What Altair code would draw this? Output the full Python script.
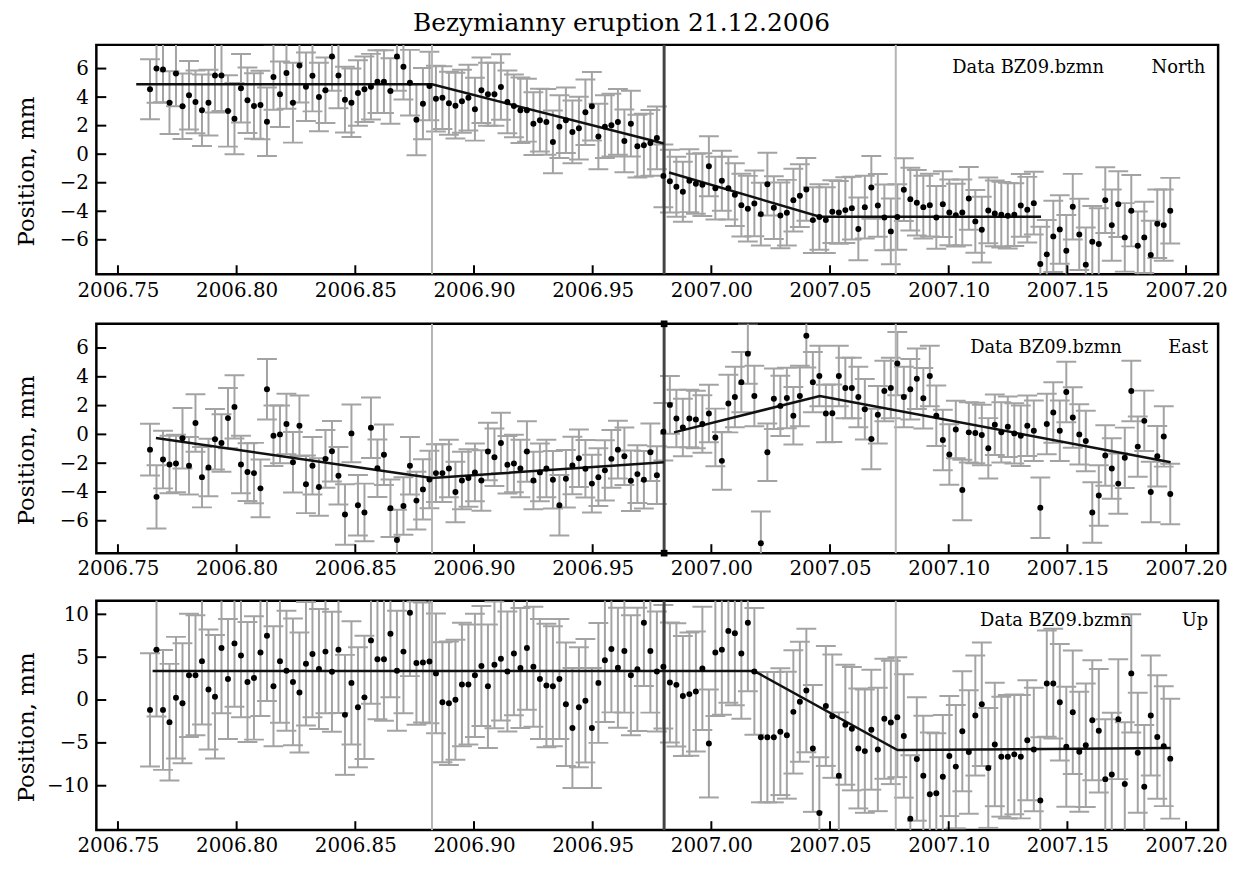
import altair as alt
import pandas as pd

TITLE = "Bezymianny eruption 21.12.2006"
FONT = "DejaVu Serif"

# daily GPS solutions, first epoch (decimal year), one per day
FIRST_EPOCH = 2006.7635
N_DAYS = 158

# event markers (decimal year)
GRAY_LINES = [2006.8823, 2007.0777]
ERUPTION = [2006.9801]

X_TICKS = [2006.75, 2006.80, 2006.85, 2006.90, 2006.95, 2007.00, 2007.05, 2007.10, 2007.15, 2007.20]
X_DOMAIN = [2006.7409, 2007.2135]

# ---------------- North ----------------
north = [4.55, 6.01, 5.94, 3.61, 5.66, 3.36, 4.13, 3.66, 3.08, 3.61,
         5.52, 5.52, 3.03, 2.49, 4.62, 3.78, 3.38, 3.45, 2.28, 5.41,
         4.20, 5.69, 3.61, 6.22, 4.73, 5.50, 4.01, 4.48, 6.85, 5.52,
         3.82, 3.61, 4.29, 4.55, 4.73, 5.08, 5.08, 4.43, 6.85, 6.13,
         5.01, 2.42, 3.54, 4.78, 3.89, 3.96, 3.57, 3.40, 3.71, 3.96,
         3.15, 4.48, 4.20, 4.20, 4.71, 3.66, 3.38, 3.08, 3.08, 2.14,
         2.38, 2.26, 0.86, 1.93, 2.38, 1.56, 1.82, 2.94, 3.36, 1.24,
         1.93, 2.03, 2.26, 0.93, 2.14, 0.56, 0.63, 0.79, 1.14, -1.52,
         -1.89, -2.28, -2.63, -1.86, -2.07, -2.14, -0.84, -2.38, -1.86, -2.38,
         -2.84, -3.57, -3.82, -3.45, -4.20, -2.10, -3.75, -4.29, -4.10, -3.22,
         -2.91, -2.47, -4.62, -4.40, -4.62, -4.03, -4.08, -3.92, -3.78, -5.24,
         -3.71, -2.33, -3.59, -4.43, -5.41, -4.40, -2.49, -3.15, -3.40, -3.71,
         -3.57, -4.43, -3.50, -4.08, -4.27, -4.08, -3.10, -4.71, -5.29, -3.94,
         -4.15, -4.24, -4.31, -4.24, -3.59, -3.89, -3.43, -7.69, -7.02, -5.76,
         -5.27, -6.76, -3.68, -5.62, -7.74, -6.13, -6.29, -3.22, -4.97, -3.50,
         -5.83, -3.96, -6.41, -5.83, -7.06, -4.87, -4.97, -3.96]
north_err = [2.1, 2.4, 2.3, 2.2, 2.3, 2.3, 2.4, 2.2, 2.5, 2.3,
             2.6, 2.5, 2.5, 2.5, 2.4, 2.3, 2.3, 2.4, 2.4, 2.3,
             2.3, 2.5, 2.8, 2.6, 2.4, 2.5, 2.4, 2.3, 2.4, 2.3,
             2.3, 2.4, 2.3, 2.3, 2.3, 2.2, 2.2, 2.3, 2.4, 2.3,
             2.3, 2.5, 2.5, 2.4, 2.3, 2.2, 2.2, 2.3, 2.2, 2.3,
             2.2, 2.3, 2.2, 2.2, 2.3, 2.2, 2.2, 2.3, 2.2, 2.2,
             2.2, 2.3, 2.2, 2.2, 2.3, 2.2, 2.2, 2.3, 2.4, 2.3,
             2.2, 2.2, 2.3, 2.2, 2.3, 2.2, 2.2, 2.3, 2.2, 2.2,
             2.2, 2.1, 2.1, 2.2, 2.1, 2.2, 2.1, 2.2, 2.1, 2.2,
             2.2, 2.2, 2.3, 2.3, 2.2, 2.2, 2.2, 2.3, 2.3, 2.2,
             2.2, 2.2, 2.3, 2.3, 2.3, 2.2, 2.2, 2.3, 2.2, 2.2,
             2.2, 2.2, 2.2, 2.3, 2.3, 2.3, 2.2, 2.2, 2.3, 2.2,
             2.2, 2.2, 2.3, 2.3, 2.2, 2.3, 2.2, 2.2, 2.3, 2.3,
             2.3, 2.3, 2.3, 2.2, 2.2, 2.3, 2.2, 2.6, 2.4, 2.5,
             2.4, 2.5, 2.3, 2.5, 2.6, 2.5, 2.5, 2.3, 2.5, 2.3,
             2.4, 2.5, 2.4, 2.5, 2.4, 2.4, 2.5, 2.3]
north_fit_t = [2006.7577, 2006.8823, 2006.9800, 2006.9822, 2007.0457, 2007.1389]
north_fit_v = [4.90, 4.90, 0.75, -1.28, -4.38, -4.38]
north_fit_seg = [0, 0, 0, 1, 1, 1]

# ---------------- East ----------------
east = [-1.06, -4.34, -1.75, -2.09, -2.02, -0.27, -2.18, 0.79, -2.97, -2.30,
        -0.34, -0.60, 1.13, 1.91, -2.09, -2.62, -2.69, -3.75, 3.13, -0.09,
        0.00, 0.72, -1.93, 0.60, -3.47, -2.18, -3.66, -1.70, -1.17, -2.87,
        -5.56, 0.07, -4.92, -5.42, 0.46, -2.35, -1.42, -5.13, -7.33, -4.97,
        -2.18, -4.60, -3.82, -3.13, -2.69, -2.69, -2.37, -4.00, -3.20, -3.03,
        -2.64, -3.20, -1.19, -1.59, -0.60, -2.11, -2.02, -2.37, -1.19, -3.20,
        -2.64, -2.37, -3.15, -4.92, -3.08, -2.16, -1.66, -2.39, -3.42, -2.97,
        -2.50, -1.70, -1.06, -1.52, -3.22, -2.76, -3.15, -1.24, -2.83, 0.18,
        2.05, 1.10, 0.48, 1.10, 1.03, 0.72, 1.45, -0.21, -1.84, 2.14,
        2.60, 3.63, 5.61, 2.67, -7.56, -1.24, 2.48, 1.98, 2.53, 1.29,
        2.67, 6.85, 3.63, 4.05, 1.45, 1.47, 4.05, 3.22, 3.22, 2.60,
        1.75, -0.32, 1.36, 3.01, 3.22, 4.92, 2.60, 3.13, 3.86, 2.51,
        4.05, 1.29, -0.39, -1.40, 0.34, -3.86, 0.14, 0.09, -0.04, -0.97,
        0.67, 0.14, 0.53, 0.07, -0.09, 0.60, 0.25, -5.10, 0.72, 1.52,
        0.25, 2.94, 1.17, 0.00, -0.46, -5.42, -4.25, -1.47, -2.37, -3.42,
        -1.63, 3.01, -0.85, 0.94, -4.00, -1.52, -0.14, -4.14]
east_err = [1.8, 2.2, 2.0, 2.0, 2.0, 2.1, 2.0, 2.0, 2.1, 2.0,
            2.1, 2.0, 2.1, 2.2, 2.0, 2.0, 2.1, 2.0, 2.1, 2.1,
            2.0, 2.1, 2.1, 2.1, 2.0, 2.0, 2.0, 2.0, 2.1, 2.0,
            2.1, 2.0, 2.1, 2.0, 2.1, 2.0, 2.1, 2.0, 2.1, 2.0,
            2.0, 2.0, 2.1, 2.0, 2.0, 2.0, 2.0, 2.1, 2.0, 2.0,
            2.0, 2.1, 2.0, 2.0, 2.1, 2.0, 2.0, 2.0, 2.1, 2.0,
            2.0, 2.0, 2.0, 2.1, 2.0, 2.0, 2.0, 2.0, 2.0, 2.0,
            2.1, 2.0, 2.0, 2.0, 2.1, 2.0, 2.0, 2.0, 2.0, 2.0,
            2.0, 2.0, 2.0, 2.0, 2.0, 2.0, 2.0, 2.0, 2.0, 2.0,
            2.1, 2.1, 2.1, 2.1, 2.2, 2.0, 2.1, 2.1, 2.1, 2.0,
            2.1, 2.2, 2.1, 2.1, 2.0, 2.0, 2.1, 2.1, 2.1, 2.1,
            2.1, 2.1, 2.0, 2.1, 2.1, 2.2, 2.1, 2.1, 2.1, 2.1,
            2.1, 2.1, 2.1, 2.1, 2.0, 2.1, 2.1, 2.1, 2.1, 2.1,
            2.1, 2.1, 2.1, 2.1, 2.1, 2.1, 2.1, 2.1, 2.1, 2.1,
            2.1, 2.1, 2.1, 2.1, 2.1, 2.1, 2.1, 2.1, 2.1, 2.1,
            2.1, 2.1, 2.1, 2.1, 2.1, 2.1, 2.1, 2.1]
east_fit_t = [2006.7660, 2006.8823, 2006.9800, 2006.9843, 2007.0457, 2007.1935]
east_fit_v = [-0.25, -3.03, -1.93, 0.14, 2.67, -1.93]
east_fit_seg = [0, 0, 0, 1, 1, 1]

# ---------------- Up ----------------
up = [-1.15, 5.88, -1.15, -2.58, 0.27, -0.38, 2.88, 2.88, 4.54, 1.23,
      0.38, 6.07, 2.46, 6.61, 5.19, 2.11, 2.58, 5.54, 7.50, 1.61,
      4.54, 3.42, 2.11, 0.88, 4.23, 5.38, 3.61, 5.65, 3.31, 5.88,
      -1.73, 2.00, -0.85, 0.31, 6.96, 4.77, 4.77, 7.73, 3.42, 5.65,
      10.19, 4.31, 4.38, 4.50, 3.11, -0.27, -0.38, 0.04, 1.81, 1.81,
      2.88, 3.96, 1.61, 4.11, 4.81, 3.34, 5.42, 3.73, 6.07, 3.88,
      2.46, 1.69, 1.61, 2.46, -0.50, -3.27, -0.85, -0.08, -3.27, 2.00,
      4.65, 5.96, 3.77, 5.73, 2.88, 3.58, 9.03, 5.73, 3.34, 3.88,
      2.04, 1.77, 0.46, 0.69, 1.00, 3.69, -5.07, 5.54, 5.88, 8.07,
      7.80, 5.42, 9.03, 3.34, -4.34, -4.34, -4.34, -3.69, -4.11, -1.38,
      -0.19, 1.11, -5.65, -13.19, -0.69, -1.88, -8.84, -2.88, -3.34, -5.65,
      -5.96, -3.46, -5.77, -2.19, -2.61, -2.00, -4.19, -13.84, -6.88, -8.84,
      -10.99, -10.88, -8.96, -6.54, -7.77, -3.65, -6.07, -1.81, -0.50, -7.92,
      -5.19, -6.61, -6.61, -6.34, -6.61, -4.69, -5.77, -11.73, 1.92, 1.92,
      -0.27, -5.46, -1.42, -6.04, -5.27, -2.35, -3.58, -9.23, -8.69, -2.23,
      -9.80, 3.11, -6.15, -10.11, -1.81, -4.31, -5.38, -6.84]
up_err = [6.6, 7.8, 7.0, 6.8, 7.1, 7.0, 7.2, 7.0, 7.4, 7.0,
          7.2, 7.6, 7.0, 7.4, 7.2, 7.0, 7.2, 7.4, 7.6, 7.0,
          7.2, 7.0, 7.4, 7.0, 7.2, 7.4, 7.0, 7.2, 7.0, 7.4,
          7.0, 7.2, 7.0, 7.2, 7.4, 7.0, 7.2, 7.4, 7.0, 7.2,
          7.4, 7.2, 7.0, 7.2, 7.0, 7.0, 7.2, 7.0, 7.2, 7.0,
          7.2, 7.0, 7.2, 7.4, 7.2, 7.0, 7.2, 7.0, 7.2, 7.0,
          7.0, 7.2, 7.0, 7.0, 7.2, 7.0, 7.0, 7.2, 7.0, 7.0,
          7.2, 7.4, 7.0, 7.2, 7.0, 7.2, 7.4, 7.2, 7.0, 7.2,
          7.0, 7.2, 7.0, 7.2, 7.0, 7.2, 6.3, 7.4, 7.6, 8.4,
          8.4, 7.6, 8.0, 7.4, 7.6, 7.6, 7.6, 7.4, 7.4, 7.2,
          7.0, 7.2, 7.4, 6.5, 7.0, 7.2, 7.4, 7.0, 7.2, 7.0,
          7.2, 7.0, 7.2, 7.0, 7.2, 7.0, 7.2, 7.4, 7.2, 7.0,
          7.2, 7.0, 7.2, 7.0, 7.2, 7.0, 7.2, 7.0, 7.2, 7.0,
          7.2, 7.0, 7.2, 7.0, 7.2, 7.0, 7.2, 7.4, 6.2, 6.4,
          6.8, 7.0, 7.2, 7.0, 7.2, 7.0, 7.2, 7.0, 7.2, 7.0,
          7.2, 6.9, 7.0, 7.2, 7.0, 7.2, 7.0, 7.0]
up_fit_t = [2006.7646, 2007.0181, 2007.0784, 2007.1935]
up_fit_v = [3.38, 3.38, -5.84, -5.60]
up_fit_seg = [0, 0, 0, 0]

W, H = 1130, 231
BAR = "#a3a3a3"
GRAY = "#b4b4b4"
DARK = "#444444"

epochs = [round(FIRST_EPOCH + k / 365.25, 5) for k in range(N_DAYS)]


def make_panel(vals, errs, fit_t, fit_v, fit_seg, ydom, yticks, comp,
               data_right, comp_right, text_y, squares=False):
    df = pd.DataFrame({"t": epochs, "v": vals, "e": errs})
    df["lo"] = df["v"] - df["e"]
    df["hi"] = df["v"] + df["e"]
    caps = pd.concat([
        pd.DataFrame({"t": df["t"], "c": df["lo"]}),
        pd.DataFrame({"t": df["t"], "c": df["hi"]}),
    ])
    fit = pd.DataFrame({"t": fit_t, "v": fit_v, "seg": fit_seg})

    xs = alt.Scale(domain=X_DOMAIN, nice=False, zero=False)
    ys = alt.Scale(domain=ydom, nice=False, zero=False)

    xax = alt.Axis(values=X_TICKS, format=".2f", ticks=False, domain=False, grid=False,
                   labelFontSize=20, labelPadding=6, labelFlush=False, labelOverlap=False,
                   labelColor="black", labelFont=FONT, title=None)
    yax = alt.Axis(values=yticks, format="d", ticks=False, domain=False, grid=False,
                   labelFontSize=20, labelPadding=8, labelOverlap=False, labelFlush=False,
                   labelColor="black", labelFont=FONT,
                   title="Position, mm", titleFont=FONT, titleFontSize=23,
                   titleFontWeight="normal", titleColor="black",
                   titleX=-63, titleY=127, titleBaseline="alphabetic")

    def X(field):
        return alt.X(field, scale=xs, axis=xax)

    def Y(field):
        return alt.Y(field, scale=ys, axis=yax)

    bars = alt.Chart(df).mark_rule(color=BAR, strokeWidth=2, clip=True).encode(
        x=X("t:Q"), y=Y("lo:Q"), y2="hi:Q")
    capm = alt.Chart(caps).mark_tick(orient="horizontal", size=20, thickness=2,
                                     color=BAR, opacity=1, clip=True).encode(
        x=X("t:Q"), y=Y("c:Q"))
    gray = alt.Chart(pd.DataFrame({"t": GRAY_LINES})).mark_rule(
        color=GRAY, strokeWidth=2).encode(x=X("t:Q"))
    dark = alt.Chart(pd.DataFrame({"t": ERUPTION})).mark_rule(
        color=DARK, strokeWidth=3).encode(x=X("t:Q"))
    fitl = alt.Chart(fit).mark_line(color="#111111", strokeWidth=2.5).encode(
        x=X("t:Q"), y=Y("v:Q"), detail="seg:N")
    pts = alt.Chart(df).mark_circle(size=36, color="black", opacity=1, clip=True).encode(
        x=X("t:Q"), y=Y("v:Q"))
    lab = pd.DataFrame({"s": ["Data BZ09.bzmn"]})
    txt1 = alt.Chart(lab).mark_text(align="right", baseline="middle", font=FONT,
                                    fontSize=18, color="black").encode(
        x=alt.value(data_right), y=alt.value(text_y), text="s:N")
    txt2 = alt.Chart(pd.DataFrame({"s": [comp]})).mark_text(
        align="right", baseline="middle", font=FONT, fontSize=18, color="black").encode(
        x=alt.value(comp_right), y=alt.value(text_y), text="s:N")
    xt = alt.Chart(pd.DataFrame({"t": X_TICKS})).mark_rule(color="black", strokeWidth=2).encode(
        x=X("t:Q"), y=alt.value(H), y2=alt.value(H - 9))
    yt = alt.Chart(pd.DataFrame({"v": yticks})).mark_rule(color="black", strokeWidth=2).encode(
        y=Y("v:Q"), x=alt.value(0), x2=alt.value(10))

    layers = [bars, capm, gray, dark, fitl, pts, txt1, txt2, xt, yt]
    if squares:
        er = pd.DataFrame({"t": ERUPTION})
        for yy in (0, H):
            layers.append(alt.Chart(er).mark_square(size=45, color="black", opacity=1).encode(
                x=X("t:Q"), y=alt.value(yy)))
    return alt.layer(*layers).properties(width=W, height=H)


p1 = make_panel(north, north_err, north_fit_t, north_fit_v, north_fit_seg,
                [-8.41, 7.66], [-6, -4, -2, 0, 2, 4, 6], "North", 1015, 1117, 23)
p2 = make_panel(east, east_err, east_fit_t, east_fit_v, east_fit_seg,
                [-8.25, 7.68], [-6, -4, -2, 0, 2, 4, 6], "East", 1033, 1120, 24, squares=True)
p3 = make_panel(up, up_err, up_fit_t, up_fit_v, up_fit_seg,
                [-15.18, 11.58], [-10, -5, 0, 5, 10], "Up", 1043, 1120, 20)

chart = alt.vconcat(p1, p2, p3, spacing=17).properties(
    title=alt.TitleParams(TITLE, font=FONT, fontSize=25, fontWeight="normal",
                          anchor="middle", color="black", offset=6),
    padding={"left": 6, "top": 0, "right": 5, "bottom": 5},
).configure(font=FONT).configure_view(stroke="black", strokeWidth=2.5)

chart.save("out.html", embed_options={"renderer": "svg", "actions": False})
